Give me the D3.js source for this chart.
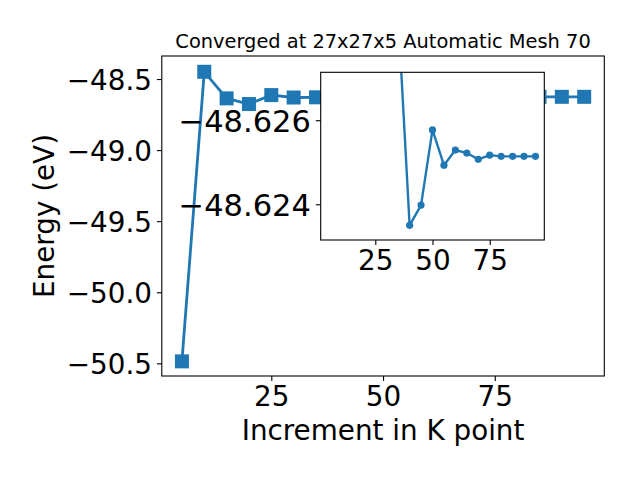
<!DOCTYPE html>
<html>
<head>
<meta charset="utf-8">
<script src="https://cdn.jsdelivr.net/npm/d3@7/dist/d3.min.js"></script>
<style>
body{margin:0;background:#fff;}
svg text{font-family:"DejaVu Sans",sans-serif;fill:#000;}
</style>
</head>
<body>
<svg id="chart" width="640" height="480"></svg>
<script>
const kPoints = [5,10,15,20,25,30,35,40,45,50,55,60,65,70,75,80,85,90,95];
const energies = [-50.486,-48.449,-48.636,-48.676,-48.613,-48.630,-48.6285,-48.6235,-48.62398,-48.62577,-48.62493,-48.62529,-48.62522,-48.62507,-48.62517,-48.62514,-48.62514,-48.62514,-48.62514];
const insetStartK = 30;
const mainXTicks = [25,50,75];
const mainYTicks = [-48.5,-49.0,-49.5,-50.0,-50.5];
const insetXTicks = [25,50,75];
const insetYTicks = [-48.626,-48.624];
const titleText = "Converged at 27x27x5 Automatic Mesh 70";
const xLabel = "Increment in K point";
const yLabel = "Energy (eV)";

const color = "#1f77b4";
const svg = d3.select("#chart");
const data = kPoints.map((k,i)=>({k, e: energies[i]}));
const insetData = data.filter(d=>d.k>=insetStartK);

// main axes
const M = {l:161.8, r:604.3, t:56, b:376};
const x = d3.scaleLinear().domain([0.5,99.5]).range([M.l, M.r]);
const y = d3.scaleLinear().domain([-50.589,-48.338]).range([M.b, M.t]);

const main = svg.append("g");
main.append("rect").attr("x",M.l).attr("y",M.t).attr("width",M.r-M.l).attr("height",M.b-M.t)
  .attr("fill","#fff");
main.append("path").datum(data)
  .attr("d", d3.line().x(d=>x(d.k)).y(d=>y(d.e)))
  .attr("fill","none").attr("stroke",color).attr("stroke-width",2.8).attr("stroke-linejoin","round");
const sq = 14;
main.selectAll("rect.m").data(data).join("rect").attr("class","m")
  .attr("x",d=>x(d.k)-sq/2).attr("y",d=>y(d.e)-sq/2).attr("width",sq).attr("height",sq)
  .attr("fill",color);
main.append("rect").attr("x",M.l).attr("y",M.t).attr("width",M.r-M.l).attr("height",M.b-M.t)
  .attr("fill","none").attr("stroke","#000").attr("stroke-width",1.1);

const fs = 27.8;
const xa = main.append("g").attr("transform",`translate(0,${M.b})`)
  .call(d3.axisBottom(x).tickValues(mainXTicks).tickSize(4.9).tickPadding(4.9).tickFormat(d3.format("d")));
const ya = main.append("g").attr("transform",`translate(${M.l},0)`)
  .call(d3.axisLeft(y).tickValues(mainYTicks).tickSize(4.9).tickPadding(4.9).tickFormat(d3.format(".1f")));
[xa,ya].forEach(a=>{
  a.select(".domain").remove();
  a.selectAll("line").attr("stroke","#000").attr("stroke-width",1.1);
  a.selectAll("text").attr("font-size",fs).attr("font-family","DejaVu Sans").attr("fill","#000");
});
xa.selectAll("text").attr("dy",null).attr("y",30).attr("dominant-baseline","alphabetic");
ya.selectAll("text").attr("dy",null).attr("y",10).attr("dominant-baseline","alphabetic");

// title and labels
svg.append("text").attr("x",(M.l+M.r)/2).attr("y",48).attr("text-anchor","middle")
  .attr("font-size",19.4).text(titleText);
svg.append("text").attr("x",(M.l+M.r)/2).attr("y",439.5).attr("text-anchor","middle")
  .attr("font-size",fs).text(xLabel);
svg.append("text").attr("transform",`translate(54,${(M.t+M.b)/2}) rotate(-90)`).attr("text-anchor","middle")
  .attr("font-size",fs).text(yLabel);

// inset
const I = {l:320.7, r:544.3, t:72.3, b:240};
const xi = d3.scaleLinear().domain([1.14,98.86]).range([I.l, I.r]);
const yi = d3.scaleLinear().domain([-48.62714,-48.62315]).range([I.t, I.b]);
const inset = svg.append("g");
inset.append("rect").attr("x",I.l).attr("y",I.t).attr("width",I.r-I.l).attr("height",I.b-I.t).attr("fill","#fff");
svg.append("clipPath").attr("id","ic").append("rect")
  .attr("x",I.l).attr("y",I.t).attr("width",I.r-I.l).attr("height",I.b-I.t);
const ig = inset.append("g").attr("clip-path","url(#ic)");
ig.append("path").datum(insetData)
  .attr("d", d3.line().x(d=>xi(d.k)).y(d=>yi(d.e)))
  .attr("fill","none").attr("stroke",color).attr("stroke-width",2.4).attr("stroke-linejoin","round");
ig.selectAll("circle").data(insetData).join("circle")
  .attr("cx",d=>xi(d.k)).attr("cy",d=>yi(d.e)).attr("r",3.6).attr("fill",color);
inset.append("rect").attr("x",I.l).attr("y",I.t).attr("width",I.r-I.l).attr("height",I.b-I.t)
  .attr("fill","none").attr("stroke","#000").attr("stroke-width",1.1);
const xia = inset.append("g").attr("transform",`translate(0,${I.b})`)
  .call(d3.axisBottom(xi).tickValues(insetXTicks).tickSize(4.9).tickPadding(4.9).tickFormat(d3.format("d")));
const yia = inset.append("g").attr("transform",`translate(${I.l},0)`)
  .call(d3.axisLeft(yi).tickValues(insetYTicks).tickSize(4.9).tickPadding(4.9).tickFormat(d3.format(".3f")));
[xia,yia].forEach(a=>{
  a.select(".domain").remove();
  a.selectAll("line").attr("stroke","#000").attr("stroke-width",1.1);
  a.selectAll("text").attr("font-family","DejaVu Sans").attr("fill","#000");
});
xia.selectAll("text").attr("font-size",fs).attr("dy",null).attr("y",29.5).attr("dominant-baseline","alphabetic");
yia.selectAll("text").attr("font-size",30.5).attr("dy",null).attr("y",11).attr("dominant-baseline","alphabetic");
</script>
</body>
</html>
